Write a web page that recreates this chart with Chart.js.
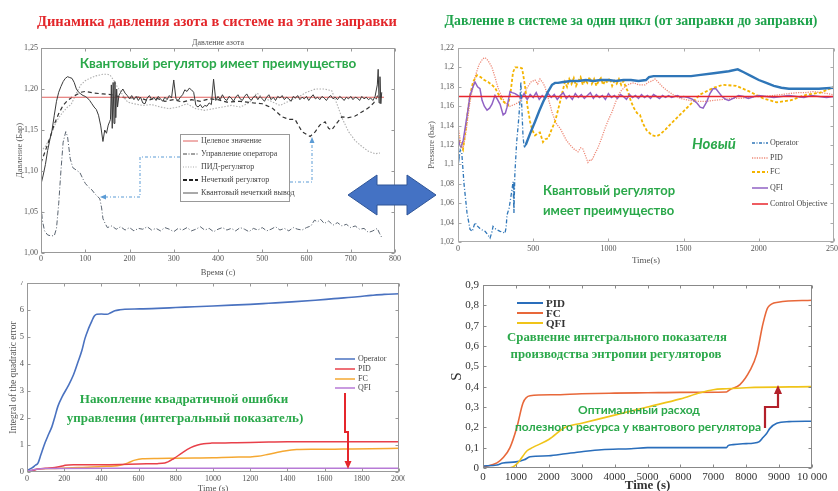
<!DOCTYPE html>
<html><head><meta charset="utf-8">
<script src="https://cdn.jsdelivr.net/npm/chart.js@4.4.1/dist/chart.umd.min.js"></script>
<style>
html,body{margin:0;padding:0;background:#fff;}
body{width:838px;height:491px;position:relative;overflow:hidden;}
canvas{position:absolute;}
.t{position:absolute;white-space:nowrap;transform:translate(-50%,-50%);line-height:1;}
.tl{position:absolute;white-space:nowrap;transform:translateY(-50%);line-height:1;}
.serif{font-family:"Liberation Serif","DejaVu Serif",serif;}
.sans{font-family:Lato,"Open Sans",sans-serif;font-weight:700;}
svg{position:absolute;left:0;top:0;}
#lgA{position:absolute;left:180px;top:134px;width:110px;height:68px;background:#fff;border:1px solid #999;box-sizing:border-box;}
</style></head>
<body>
<canvas id="cA" width="405" height="252" style="left:0;top:30px"></canvas>
<canvas id="cB" width="418" height="240" style="left:420px;top:30px"></canvas>
<canvas id="cC" width="405" height="215" style="left:0;top:281px"></canvas>
<canvas id="cD" width="418" height="215" style="left:420px;top:279px"></canvas>
<div id="lgA"></div>
<svg width="838" height="491">
 <polygon points="348,195 377,175 377,185 407,185 407,175 436,195 407,215 407,205 377,205 377,215" fill="#4472c4" stroke="#2f5597" stroke-width="1"/>
 <polyline points="180,157 140,157 140,197 105,197" fill="none" stroke="#5b9bd5" stroke-width="1" stroke-dasharray="3,2,1,2"/>
 <polygon points="100,197 106,194.5 106,199.5" fill="#5b9bd5"/>
 <polyline points="290,182 312,182 312,143" fill="none" stroke="#5b9bd5" stroke-width="1" stroke-dasharray="3,2,1,2"/>
 <polygon points="312,137 309.5,143 314.5,143" fill="#5b9bd5"/>
 <polyline points="345,393 345,432 348,432 348,462" fill="none" stroke="#e5262c" stroke-width="2"/>
 <polygon points="348,469 344.5,461 351.5,461" fill="#e5262c"/>
 <polyline points="765,428 765,407 778,407 778,393" fill="none" stroke="#b3202a" stroke-width="2.2"/>
 <polygon points="778,385 774,394 782,394" fill="#b3202a"/>
 <line x1="183" y1="141" x2="198" y2="141" stroke="#e0605e" stroke-width="1"/>
 <line x1="183" y1="154" x2="198" y2="154" stroke="#444" stroke-width="1" stroke-dasharray="4,1.5,1,1.5"/>
 <line x1="183" y1="167" x2="198" y2="167" stroke="#aaa" stroke-width="1" stroke-dasharray="1,1.5"/>
 <line x1="183" y1="180" x2="198" y2="180" stroke="#222" stroke-width="1.8" stroke-dasharray="4,2"/>
 <line x1="183" y1="193" x2="198" y2="193" stroke="#555" stroke-width="1"/>
 <line x1="752" y1="143" x2="768" y2="143" stroke="#2f76b8" stroke-width="1.3" stroke-dasharray="3,1.5,1,1.5"/>
 <line x1="752" y1="158" x2="768" y2="158" stroke="#ee8a78" stroke-width="1.3" stroke-dasharray="1.2,1.2"/>
 <line x1="752" y1="172" x2="768" y2="172" stroke="#f4b400" stroke-width="1.8" stroke-dasharray="3,2"/>
 <line x1="752" y1="188" x2="768" y2="188" stroke="#9162c4" stroke-width="1.5"/>
 <line x1="752" y1="204" x2="768" y2="204" stroke="#e8262d" stroke-width="1.5"/>
 <line x1="335" y1="359" x2="355" y2="359" stroke="#4a72c0" stroke-width="1.5"/>
 <line x1="335" y1="369" x2="355" y2="369" stroke="#e8404a" stroke-width="1.5"/>
 <line x1="335" y1="379" x2="355" y2="379" stroke="#f5a832" stroke-width="1.5"/>
 <line x1="335" y1="388" x2="355" y2="388" stroke="#b77ad6" stroke-width="1.5"/>
 <line x1="517" y1="303" x2="543" y2="303" stroke="#2a6ebb" stroke-width="2"/>
 <line x1="517" y1="313" x2="543" y2="313" stroke="#e8683a" stroke-width="2"/>
 <line x1="517" y1="323" x2="543" y2="323" stroke="#f0c419" stroke-width="2"/>
</svg>

<div class="t serif" style="left:217px;top:21px;font-size:14.5px;font-weight:700;color:#e3262a">Динамика давления азота в системе на этапе заправки</div>
<div class="t serif" style="left:631px;top:21px;font-size:13.8px;font-weight:700;color:#1ea34b">Давление в системе за один цикл (от заправки до заправки)</div>
<div class="t serif" style="left:218px;top:43px;font-size:8px;color:#555">Давление азота</div>
<div class="t sans" style="left:218px;top:64px;font-size:13.5px;color:#2aa84a">Квантовый регулятор имеет преимущество</div>
<div class="tl sans" style="left:543px;top:190px;font-size:13px;color:#2aa84a">Квантовый регулятор</div>
<div class="tl sans" style="left:543px;top:210px;font-size:13px;color:#2aa84a">имеет преимущество</div>
<div class="tl sans" style="left:692px;top:143px;font-size:15px;font-style:italic;color:#2aa84a">Новый</div>
<div class="t serif" style="left:184px;top:398px;font-size:13px;font-weight:700;color:#2aa84a">Накопление квадратичной ошибки</div>
<div class="t serif" style="left:185px;top:417px;font-size:13px;font-weight:700;color:#2aa84a">управления (интегральный показатель)</div>
<div class="t serif" style="left:617px;top:337px;font-size:12.8px;font-weight:700;color:#2aa84a">Сравнение интегрального показателя</div>
<div class="t serif" style="left:616px;top:354px;font-size:12.8px;font-weight:700;color:#2aa84a">производства энтропии регуляторов</div>
<div class="t sans" style="left:639px;top:410px;font-size:12px;color:#2aa84a">Оптимальный расход</div>
<div class="t sans" style="left:638px;top:427px;font-size:12px;color:#2aa84a">полезного ресурса у квантового регулятора</div>

<div class="tl serif" style="left:201px;top:141px;font-size:8px;color:#444">Целевое значение</div>
<div class="tl serif" style="left:201px;top:154px;font-size:8px;color:#444">Управление оператора</div>
<div class="tl serif" style="left:201px;top:167px;font-size:8px;color:#444">ПИД-регулятор</div>
<div class="tl serif" style="left:201px;top:180px;font-size:8px;color:#444">Нечеткий регулятор</div>
<div class="tl serif" style="left:201px;top:193px;font-size:8px;color:#444">Квантовый нечеткий вывод</div>

<div class="tl serif" style="left:770px;top:143px;font-size:8px;color:#444">Operator</div>
<div class="tl serif" style="left:770px;top:158px;font-size:8px;color:#444">PID</div>
<div class="tl serif" style="left:770px;top:172px;font-size:8px;color:#444">FC</div>
<div class="tl serif" style="left:770px;top:188px;font-size:8px;color:#444">QFI</div>
<div class="tl serif" style="left:770px;top:204px;font-size:8px;color:#444">Control Objective</div>

<div class="tl serif" style="left:358px;top:359px;font-size:8px;color:#444">Operator</div>
<div class="tl serif" style="left:358px;top:369px;font-size:8px;color:#444">PID</div>
<div class="tl serif" style="left:358px;top:379px;font-size:8px;color:#444">FC</div>
<div class="tl serif" style="left:358px;top:388px;font-size:8px;color:#444">QFI</div>

<div class="tl serif" style="left:546px;top:303px;font-size:11px;font-weight:700;color:#333">PID</div>
<div class="tl serif" style="left:546px;top:313px;font-size:11px;font-weight:700;color:#333">FC</div>
<div class="tl serif" style="left:546px;top:323px;font-size:11px;font-weight:700;color:#333">QFI</div>

<script>
// ===== Chart A: nitrogen pressure during refuelling =====
const xTicksA = [0,100,200,300,400,500,600,700,800];
const xLabelsA = ['0','100','200','300','400','500','600','700','800'];
const yTicksA = [1.00,1.05,1.10,1.15,1.20,1.25];
const yLabelsA = ['1,00','1,05','1,10','1,15','1,20','1,25'];
const targetA = [[0,1.19],[775,1.19]];
const operatorA = [[0,1.06],[3,1.04],[8,1.027],[15,1.022],[22,1.021],[30,1.021],[35,1.03],[40,1.06],[45,1.10],[50,1.135],[56,1.148],[60,1.142],[66,1.115],[72,1.104],[80,1.101],[88,1.098],[95,1.09],[100,1.085],[108,1.08],[115,1.077],[122,1.072],[128,1.069],[133,1.066],[137,1.055],[140,1.042],[145,1.036],[150,1.031],
[160,1.033],[170,1.029],[180,1.032],[190,1.028],[200,1.031],[210,1.027],[220,1.030],[230,1.029],[240,1.032],[250,1.028],
[260,1.030],[270,1.027],[280,1.031],[290,1.029],[300,1.026],[310,1.030],[320,1.028],[330,1.031],[340,1.027],[350,1.029],
[360,1.032],[370,1.028],[380,1.030],[390,1.026],[400,1.029],[410,1.031],[420,1.028],[430,1.030],[440,1.027],[450,1.031],
[460,1.029],[470,1.026],[480,1.030],[490,1.028],[500,1.031],[510,1.027],[520,1.029],[530,1.032],[540,1.028],[550,1.030],
[560,1.027],[570,1.031],[580,1.029],[590,1.028],[600,1.031],[610,1.033],[618,1.040],[625,1.038],[632,1.041],[640,1.036],
[650,1.039],[660,1.034],[670,1.037],[680,1.033],[690,1.035],[700,1.031],[710,1.033],[720,1.029],[730,1.030],[740,1.025],
[750,1.027],[760,1.030],[765,1.024],[770,1.019]];
const pidA = [[0,1.124],[10,1.13],[20,1.14],[30,1.155],[40,1.165],[50,1.172],[60,1.178],[68,1.181],[80,1.195],[90,1.205],[100,1.21],[110,1.213],[124,1.216],[140,1.218],[150,1.218],[156,1.217],[165,1.21],[172,1.203],[181,1.196],[190,1.188],[196,1.184],[210,1.182],[230,1.180],[250,1.181],[270,1.178],[290,1.176],[310,1.178],[330,1.182],[350,1.176],[370,1.174],[390,1.176],[410,1.178],[430,1.180],[450,1.178],[470,1.183],[488,1.195],[500,1.19],[520,1.185],[540,1.18],[560,1.185],[580,1.19],[600,1.196],[620,1.2],[640,1.2],[657,1.198],[670,1.18],[680,1.165],[695,1.148],[710,1.137],[725,1.13],[740,1.124],[755,1.121],[766,1.122]];
const fuzzyA = [[0,1.11],[10,1.125],[20,1.14],[30,1.157],[40,1.17],[50,1.18],[60,1.186],[70,1.19],[80,1.193],[90,1.196],[100,1.197],[120,1.195],[140,1.194],[160,1.193],[180,1.19],[200,1.189],[220,1.190],[240,1.186],[260,1.189],[280,1.185],[300,1.187],[320,1.184],[340,1.187],[360,1.185],[380,1.188],[400,1.187],[420,1.184],[450,1.185],[480,1.183],[500,1.182],[522,1.177],[545,1.166],[560,1.163],[574,1.163],[590,1.148],[608,1.142],[620,1.148],[630,1.156],[642,1.16],[650,1.152],[657,1.15],[668,1.158],[680,1.166],[695,1.165],[710,1.167],[725,1.172],[740,1.177],[752,1.183],[762,1.193],[770,1.19]];
const quantumA = [[0,1.084],[5,1.095],[10,1.108],[15,1.125],[20,1.138],[25,1.150],[30,1.168],[35,1.185],[40,1.196],[45,1.203],[50,1.209],[55,1.213],[60,1.215],[65,1.214],[70,1.213],[75,1.208],[80,1.200],[85,1.196],[90,1.194],[95,1.192],[100,1.191],[105,1.189],[110,1.186],[115,1.182],[120,1.178],[125,1.175],[130,1.168],[135,1.155],[140,1.136],[144,1.150],[148,1.146],[152,1.156],[155,1.160],[157,1.163],[159,1.205],[161,1.152],[163,1.208],[165,1.158],[167,1.209],[169,1.165],[171,1.200],[173,1.178],[176,1.192],[180,1.196],[185,1.200],[190,1.195],[195,1.192],
[200,1.188],[205,1.192],[210,1.187],[215,1.191],[220,1.186],[225,1.190],[230,1.183],[235,1.182],[240,1.189],[245,1.192],[250,1.187],[255,1.190],[260,1.186],[265,1.191],[270,1.188],[275,1.185],[280,1.190],[285,1.187],[290,1.192],[295,1.189],[300,1.211],[305,1.188],[310,1.186],[315,1.190],[320,1.193],[325,1.199],[330,1.197],[335,1.201],[340,1.199],[345,1.196],[350,1.180],[355,1.178],[360,1.181],[365,1.177],[370,1.180],[375,1.179],[380,1.183],[385,1.181],[390,1.212],[395,1.186],[400,1.191],[405,1.187],[410,1.193],[415,1.188],[420,1.186],[425,1.191],[430,1.189],[435,1.185],[440,1.190],[445,1.193],[450,1.188],[455,1.186],[460,1.191],[465,1.194],[470,1.189],[475,1.186],[480,1.190],[485,1.192],[490,1.187],[495,1.191],[500,1.188],[505,1.185],[510,1.190],[515,1.193],[520,1.187],[525,1.190],[530,1.186],[535,1.191],[540,1.189],[545,1.192],[550,1.187],[555,1.190],[560,1.188],[565,1.185],[570,1.191],[575,1.189],[580,1.192],[585,1.187],[590,1.190],[595,1.188],[600,1.191],[605,1.186],[610,1.190],[615,1.193],[620,1.188],[625,1.190],[630,1.187],[635,1.191],[640,1.189],[645,1.186],[650,1.190],[655,1.192],[660,1.188],[665,1.190],[670,1.187],[675,1.191],[680,1.189],[685,1.186],[690,1.190],[695,1.188],[700,1.191],[705,1.187],[710,1.190],[715,1.189],[720,1.186],[725,1.191],[730,1.188],[735,1.190],[740,1.187],[745,1.189],[750,1.186],[755,1.191],[760,1.205],[762,1.224],[764,1.183],[766,1.215],[768,1.182],[770,1.196]];

// ===== Chart B: system pressure over one cycle =====
const xTicksB = [0,500,1000,1500,2000,2500];
const xLabelsB = ['0','500','1000','1500','2000','2500'];
const yTicksB = [1.02,1.04,1.06,1.08,1.10,1.12,1.14,1.16,1.18,1.20,1.22];
const yLabelsB = ['1,02','1,04','1,06','1,08','1,1','1,12','1,14','1,16','1,18','1,2','1,22'];
const objectiveB = [[0,1.17],[2500,1.17]];
const operatorB = [[0,1.12],[8,1.107],[15,1.115],[25,1.112],[40,1.08],[60,1.05],[80,1.033],[95,1.031],[113,1.04],[125,1.037],[146,1.034],[165,1.032],[180,1.031],[200,1.027],[213,1.024],[225,1.03],[233,1.036],[245,1.034],[255,1.033],[280,1.031],[300,1.03],[312,1.029],[320,1.035],[326,1.048],[340,1.055],[346,1.061],[355,1.07],[366,1.082],[372,1.05],[378,1.09],[390,1.123],[400,1.14],[410,1.16],[418,1.185],[424,1.16],[432,1.13],[440,1.117],[450,1.12],[480,1.132],[512,1.144],[540,1.155],[565,1.164],[595,1.174],[625,1.182],[645,1.184],[665,1.184],[700,1.185],[750,1.186],[800,1.186],[850,1.187],[900,1.186],[950,1.187],[1000,1.187],[1050,1.186],[1100,1.187],[1150,1.187],[1200,1.186],[1250,1.187],[1270,1.190],[1300,1.191],[1400,1.191],[1500,1.191],[1550,1.191],[1600,1.192],[1700,1.194],[1800,1.196],[1860,1.198],[1900,1.195],[1950,1.191],[2000,1.187],[2050,1.184],[2100,1.181],[2150,1.179],[2200,1.178],[2300,1.178],[2400,1.178],[2500,1.179]];
const pidB = [[0,1.14],[15,1.125],[33,1.117],[50,1.13],[80,1.165],[113,1.19],[140,1.203],[165,1.209],[180,1.21],[200,1.207],[226,1.2],[246,1.19],[266,1.179],[290,1.17],[312,1.164],[330,1.161],[346,1.16],[380,1.162],[412,1.165],[440,1.172],[459,1.179],[485,1.185],[512,1.187],[530,1.183],[545,1.188],[565,1.184],[578,1.18],[600,1.168],[625,1.154],[645,1.145],[658,1.141],[680,1.137],[700,1.131],[720,1.125],[745,1.12],[770,1.116],[798,1.113],[815,1.117],[830,1.116],[850,1.108],[864,1.102],[878,1.105],[890,1.104],[910,1.111],[930,1.117],[955,1.127],[977,1.137],[1000,1.146],[1024,1.154],[1045,1.163],[1064,1.171],[1085,1.176],[1110,1.18],[1140,1.183],[1170,1.184],[1200,1.182],[1243,1.182],[1270,1.185],[1290,1.186],[1310,1.188],[1330,1.185],[1360,1.18],[1400,1.175],[1430,1.172],[1480,1.168],[1540,1.166],[1600,1.165],[1650,1.165],[1700,1.166],[1760,1.167],[1820,1.168],[1870,1.168],[1930,1.169],[1980,1.170],[2040,1.170],[2090,1.171],[2150,1.172],[2200,1.173],[2260,1.174],[2310,1.174],[2360,1.175],[2420,1.174],[2490,1.172]];
const fcB = [[0,1.13],[15,1.12],[33,1.115],[50,1.135],[65,1.155],[80,1.171],[100,1.185],[126,1.192],[150,1.19],[175,1.187],[200,1.185],[225,1.182],[246,1.179],[270,1.172],[293,1.166],[315,1.163],[333,1.161],[350,1.175],[366,1.195],[380,1.2],[390,1.2],[410,1.2],[426,1.199],[436,1.19],[446,1.18],[462,1.16],[479,1.144],[495,1.135],[512,1.13],[530,1.132],[545,1.133],[555,1.128],[565,1.123],[580,1.126],[600,1.127],[620,1.135],[645,1.144],[660,1.153],[678,1.164],[695,1.175],
[711,1.185],[725,1.180],[740,1.188],[755,1.183],[770,1.189],[785,1.181],[800,1.186],[815,1.190],[830,1.182],[845,1.187],[860,1.184],[875,1.190],[890,1.183],[905,1.188],[920,1.181],[935,1.186],[950,1.189],[965,1.182],[980,1.187],[995,1.184],[1010,1.189],[1025,1.181],[1040,1.186],[1055,1.183],[1070,1.188],[1085,1.182],[1100,1.186],[1115,1.180],[1130,1.175],[1150,1.165],[1170,1.158],[1190,1.153],[1210,1.151],[1230,1.142],[1255,1.135],[1290,1.130],[1320,1.129],[1345,1.131],[1380,1.136],[1410,1.141],[1475,1.151],[1540,1.161],[1610,1.172],[1700,1.179],[1760,1.182],[1850,1.181],[1940,1.175],[2030,1.168],[2120,1.164],[2210,1.166],[2320,1.172],[2410,1.174],[2500,1.180]];
const qfiB = [[0,1.13],[10,1.12],[20,1.118],[35,1.125],[50,1.14],[65,1.155],[80,1.171],[100,1.18],[113,1.185],[130,1.18],[146,1.178],[160,1.166],[175,1.16],[193,1.156],[210,1.158],[226,1.162],[246,1.171],[262,1.167],[280,1.162],[300,1.151],[315,1.153],[326,1.159],[346,1.175],[360,1.174],[380,1.173],
[400,1.171],[420,1.168],[440,1.173],[460,1.167],[480,1.172],[500,1.169],[520,1.174],[540,1.167],[560,1.171],[580,1.168],[600,1.173],[620,1.169],[640,1.172],[660,1.167],[680,1.171],[700,1.174],[720,1.168],[740,1.171],[760,1.167],[780,1.173],[800,1.169],[820,1.172],[840,1.168],[860,1.171],[880,1.174],[900,1.168],[920,1.172],[940,1.169],[960,1.171],[980,1.167],[1000,1.173],[1020,1.169],[1040,1.171],[1060,1.168],[1080,1.172],[1100,1.170],[1120,1.167],[1140,1.172],[1160,1.169],[1180,1.171],[1200,1.168],[1220,1.172],[1240,1.169],[1260,1.171],[1280,1.168],[1300,1.172],[1320,1.170],[1340,1.168],[1360,1.171],[1380,1.169],[1400,1.171],[1420,1.169],[1440,1.170],[1460,1.171],[1480,1.169],[1500,1.170],[1530,1.169],[1560,1.167],[1590,1.163],[1610,1.159],[1630,1.158],[1655,1.165],[1675,1.173],[1695,1.178],[1715,1.178],[1735,1.174],[1755,1.170],[1780,1.167],[1800,1.166],[1830,1.168],[1865,1.171],[1900,1.170],[1930,1.168],[1970,1.170],[2000,1.171],[2050,1.170],[2100,1.169],[2150,1.170],[2200,1.171],[2250,1.170],[2300,1.169],[2350,1.171],[2400,1.170],[2450,1.169],[2500,1.170]];

// ===== Chart C: integral of the quadratic error =====
const xTicksC = [0,200,400,600,800,1000,1200,1400,1600,1800,2000];
const xLabelsC = ['0','200','400','600','800','1000','1200','1400','1600','1800','2000'];
const yTicksC = [0,1,2,3,4,5,6,7];
const yLabelsC = ['0','1','2','3','4','5','6','7'];
const operatorC = [[0,0.05],[27,0.15],[45,0.25],[59,0.33],[75,0.65],[97,1.08],[115,1.38],[134,1.68],[150,2.05],[166,2.43],[190,2.8],[220,3.17],[250,3.6],[274,4.07],[295,4.5],[311,4.93],[330,5.3],[349,5.6],[362,5.78],[375,5.84],[400,5.85],[430,5.84],[450,5.9],[472,5.97],[500,6.01],[526,6.03],[606,6.04],[700,6.06],[800,6.09],[900,6.12],[1000,6.15],[1100,6.18],[1200,6.21],[1300,6.25],[1423,6.3],[1550,6.36],[1650,6.42],[1777,6.49],[1850,6.54],[1920,6.58],[2000,6.6]];
const pidC = [[0,0],[30,0.05],[60,0.11],[100,0.14],[150,0.17],[190,0.22],[204,0.25],[250,0.27],[300,0.27],[400,0.27],[500,0.28],[600,0.3],[700,0.31],[741,0.33],[790,0.5],[832,0.7],[880,0.9],[918,1.0],[950,1.05],[993,1.07],[1100,1.08],[1200,1.09],[1300,1.11],[1400,1.12],[1600,1.12],[1800,1.12],[2000,1.12]];
const fcC = [[0,0],[50,0.1],[150,0.13],[300,0.17],[400,0.2],[500,0.25],[540,0.33],[580,0.44],[620,0.49],[700,0.5],[800,0.51],[900,0.52],[1000,0.53],[1100,0.55],[1200,0.56],[1240,0.58],[1300,0.66],[1385,0.78],[1450,0.83],[1550,0.84],[1700,0.85],[1850,0.86],[2000,0.88]];
const qfiC = [[0,0.03],[50,0.1],[100,0.13],[500,0.14],[1000,0.14],[1500,0.14],[2000,0.14]];

// ===== Chart D: integral entropy production =====
const xTicksD = [0,1000,2000,3000,4000,5000,6000,7000,8000,9000,10000];
const xLabelsD = ['0','1000','2000','3000','4000','5000','6000','7000','8000','9000','10 000'];
const yTicksD = [0,0.1,0.2,0.3,0.4,0.5,0.6,0.7,0.8,0.9];
const yLabelsD = ['0','0,1','0,2','0,3','0,4','0,5','0,6','0,7','0,8','0,9'];
const pidD = [[0,0.01],[425,0.015],[608,0.025],[1000,0.03],[1250,0.04],[1430,0.055],[2000,0.06],[2500,0.07],[3000,0.08],[3600,0.09],[4500,0.095],[5000,0.1],[6000,0.1],[7400,0.1],[7450,0.11],[7600,0.115],[8000,0.12],[8200,0.122],[8400,0.13],[8510,0.15],[8620,0.17],[8720,0.195],[8930,0.22],[9300,0.228],[10000,0.23]];
const fcD = [[0,0.005],[425,0.025],[608,0.05],[820,0.1],[1030,0.2],[1216,0.32],[1430,0.355],[2140,0.36],[3000,0.365],[4000,0.368],[5000,0.37],[6000,0.372],[7400,0.374],[7500,0.385],[7810,0.41],[8115,0.48],[8320,0.56],[8510,0.71],[8660,0.79],[8970,0.815],[10000,0.825]];
const qfiD = [[0,0],[800,0],[1030,0.02],[1340,0.085],[1500,0.1],[2000,0.14],[2500,0.2],[3000,0.22],[4000,0.26],[5000,0.3],[6000,0.34],[6600,0.37],[7000,0.385],[7400,0.39],[8000,0.395],[10000,0.4]];

const SERIF = '"Liberation Serif","DejaVu Serif",serif';
const framePlugin = {
  id: 'frame',
  afterDatasetsDraw(chart, args, opts) {
    const {ctx, chartArea: a} = chart;
    ctx.save();
    ctx.strokeStyle = opts.color || '#999';
    ctx.lineWidth = 1;
    const L = Math.round(a.left) + 0.5, T = Math.round(a.top) + 0.5, R = Math.round(a.right) - 0.5, B = Math.round(a.bottom) - 0.5;
    ctx.strokeRect(L, T, R - L, B - T);
    const len = 3;
    ctx.beginPath();
    chart.scales.x.ticks.forEach(t => {
      const p = Math.round(chart.scales.x.getPixelForValue(t.value)) + 0.5;
      ctx.moveTo(p, B); ctx.lineTo(p, B - len); ctx.moveTo(p, T); ctx.lineTo(p, T + len);
    });
    chart.scales.y.ticks.forEach(t => {
      const p = Math.round(chart.scales.y.getPixelForValue(t.value)) + 0.5;
      ctx.moveTo(L, p); ctx.lineTo(L + len, p); ctx.moveTo(R, p); ctx.lineTo(R - len, p);
    });
    ctx.stroke();
    ctx.restore();
  }
};

function axis(o) {
  return {
    type: 'linear', min: o.min, max: o.max,
    grid: {display: false, drawTicks: false}, border: {display: false},
    afterBuildTicks: s => { s.ticks = o.ticks.map(v => ({value: v})); },
    afterFit: s => {
      if (o.w != null) s.width = o.w;
      if (o.h != null) s.height = o.h;
      s.paddingLeft = 0; s.paddingRight = 0; s.paddingTop = 0; s.paddingBottom = 0;
    },
    ticks: {autoSkip: false, maxRotation: 0, minRotation: 0, padding: o.pad, color: o.color,
      font: {family: SERIF, size: o.size, weight: o.weight || 'normal'},
      callback: (v, i) => o.labels[i]},
    title: {display: true, text: o.title, color: o.tcolor || o.color,
      font: {family: SERIF, size: o.tsize, weight: o.tweight || 'normal', style: o.tstyle || 'normal'},
      padding: o.tpad}
  };
}
const ds = (pairs, color, width, dash, extra) => Object.assign({
  data: pairs.map(p => ({x: p[0], y: p[1]})),
  borderColor: color, borderWidth: width, borderDash: dash || [],
  pointRadius: 0, fill: false, tension: 0
}, extra || {});

function make(id, datasets, xo, yo, pad, frameColor) {
  return new Chart(document.getElementById(id), {
    type: 'line',
    data: {datasets},
    options: {
      responsive: false, animation: false, events: [],
      layout: {padding: pad},
      plugins: {legend: {display: false}, tooltip: {enabled: false}, frame: {color: frameColor}},
      scales: {x: axis(xo), y: axis(yo)}
    },
    plugins: [framePlugin]
  });
}

make('cA', [
  ds(quantumA, '#3a3a3a', 1),
  ds(targetA, '#e0605e', 1.1),
  ds(fuzzyA, '#333', 1.2, [4, 3]),
  ds(pidA, '#b0b0b0', 1.1, [1.5, 1.5]),
  ds(operatorA, '#5a6470', 1, [5, 2, 1, 2])
], {min: 0, max: 800, ticks: xTicksA, labels: xLabelsA, h: 29, pad: 1, color: '#555', size: 8,
    title: 'Время (с)', tsize: 8.5, tpad: {top: 0, bottom: 4.5}},
   {min: 1.0, max: 1.25, ticks: yTicksA, labels: yLabelsA, w: 41, pad: 3, color: '#555', size: 8,
    title: 'Давление (Бар)', tsize: 8.5, tpad: {top: 15, bottom: 0}},
   {top: 18, right: 10, left: 0, bottom: 0}, '#999');

make('cB', [
  ds(operatorB, '#2f76b8', 2.4, [], {segment: {
    borderDash: c => c.p0.parsed.x < 445 ? [4, 2, 1, 2] : [],
    borderWidth: c => c.p0.parsed.x < 445 ? 1.3 : 2.4}}),
  ds(objectiveB, '#e8262d', 1.6),
  ds(qfiB, '#9162c4', 1.5),
  ds(fcB, '#f4b400', 1.8, [3, 2]),
  ds(pidB, '#ee8a78', 1.3, [1.2, 1.2])
], {min: 0, max: 2500, ticks: xTicksB, labels: xLabelsB, h: 28, pad: 2, color: '#555', size: 8,
    title: 'Time(s)', tsize: 9, tpad: {top: 0, bottom: 4}},
   {min: 1.02, max: 1.22, ticks: yTicksB, labels: yLabelsB, w: 38, pad: 4, color: '#555', size: 8,
    title: 'Pressure (bar)', tsize: 8.5, tpad: {top: 7, bottom: 0}},
   {top: 18, right: 4, left: 0, bottom: 0}, '#aaa');

make('cC', [
  ds(qfiC, '#b77ad6', 1.5, [], {cubicInterpolationMode: 'monotone'}),
  ds(pidC, '#e8404a', 1.5, [], {cubicInterpolationMode: 'monotone'}),
  ds(fcC, '#f5a832', 1.5, [], {cubicInterpolationMode: 'monotone'}),
  ds(operatorC, '#4a72c0', 1.6, [], {cubicInterpolationMode: 'monotone'})
], {min: 0, max: 2000, ticks: xTicksC, labels: xLabelsC, h: 24, pad: 2, color: '#555', size: 8,
    title: 'Time (s)', tsize: 9, tpad: {top: 0, bottom: 1.6}},
   {min: 0, max: 7, ticks: yTicksC, labels: yLabelsC, w: 27, pad: 3, color: '#555', size: 8.5,
    title: 'Integral of the quadratic error', tsize: 9.5, tpad: {top: 8, bottom: 0}},
   {top: 2, right: 6, left: 0, bottom: 0}, '#999');

make('cD', [
  ds(qfiD, '#f0c419', 1.6, [], {cubicInterpolationMode: 'monotone'}),
  ds(pidD, '#2a6ebb', 1.6, [], {cubicInterpolationMode: 'monotone'}),
  ds(fcD, '#e8683a', 1.6, [], {cubicInterpolationMode: 'monotone'})
], {min: 0, max: 10000, ticks: xTicksD, labels: xLabelsD, h: 26, pad: 3, color: '#333', size: 11,
    title: 'Time (s)', tsize: 13, tweight: 'bold', tpad: {top: 0, bottom: 0.5}},
   {min: 0, max: 0.9, ticks: yTicksD, labels: yLabelsD, w: 63, pad: 4, color: '#333', size: 11,
    title: 'S', tsize: 15, tpad: {top: 28, bottom: 0}},
   {top: 6, right: 26, left: 0, bottom: 0}, '#888');
</script>
</body></html>
